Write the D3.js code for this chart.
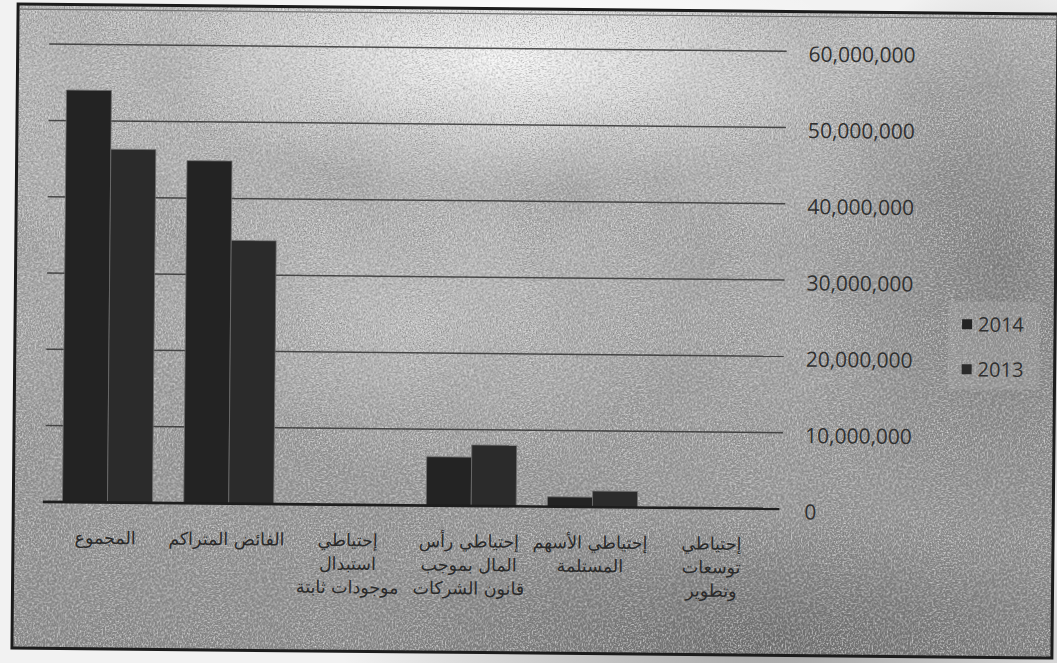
<!DOCTYPE html>
<html>
<head>
<meta charset="utf-8">
<script src="https://cdn.jsdelivr.net/npm/d3@7"></script>
<style>
	body { margin: 0; background: #f2f2f2; }
	svg { display: block; }
</style>
</head>
<body>
<svg id="chart" width="1057" height="663"></svg>
<script>
// categories, left to right as printed (lines split with \n)
var categories = [
	"المجموع",
	"الفائض المتراكم",
	"إحتياطي\nاستبدال\nموجودات ثابتة",
	"إحتياطي رأس\nالمال بموجب\nقانون الشركات",
	"إحتياطي الأسهم\nالمستلمة",
	"إحتياطي\nتوسعات\nوتطوير"
];
var seriesNames = ["2014", "2013"];
var values2014 = [54000000, 44900000, 0, 6400000, 1300000, 150000];
var values2013 = [46300000, 34500000, 0, 8000000, 2100000, 100000];
var yTicks = [0, 10000000, 20000000, 30000000, 40000000, 50000000, 60000000];

var W = 1057, H = 663;
var TILT = 0.55;
var BAR_COLORS = ["#232323", "#2b2b2b"];
var TEXT_COLOR = "#2a2a2a";

var svg = d3.select("#chart");
var defs = svg.append("defs");

/*
Paper shading: light patch at the top, darker towards bottom / right
*/
var lin = defs.append("linearGradient").attr("id", "paper").attr("x1", 0).attr("y1", 0).attr("x2", 0).attr("y2", 1);
lin.append("stop").attr("offset", "0").attr("stop-color", "#b8b8b8");
lin.append("stop").attr("offset", "0.45").attr("stop-color", "#a6a6a6");
lin.append("stop").attr("offset", "1").attr("stop-color", "#898989");

var hi = defs.append("radialGradient").attr("id", "highlight");
hi.append("stop").attr("offset", "0").attr("stop-color", "#ffffff").attr("stop-opacity", 0.9);
hi.append("stop").attr("offset", "1").attr("stop-color", "#ffffff").attr("stop-opacity", 0);

var dk = defs.append("radialGradient").attr("id", "shadow");
dk.append("stop").attr("offset", "0").attr("stop-color", "#505050").attr("stop-opacity", 0.5);
dk.append("stop").attr("offset", "1").attr("stop-color", "#505050").attr("stop-opacity", 0);

// soft blotches
var blot = defs.append("filter").attr("id", "blotch").attr("x", 0).attr("y", 0).attr("width", "100%").attr("height", "100%");
blot.append("feTurbulence").attr("type", "fractalNoise").attr("baseFrequency", 0.01).attr("numOctaves", 2).attr("seed", 2);
blot.append("feColorMatrix").attr("type", "matrix")
	.attr("values", "0 0 0 0 0.25  0 0 0 0 0.25  0 0 0 0 0.25  -0.7 0 0 0 0.4");

// fine grain, dark and light specks
var dark = defs.append("filter").attr("id", "grainDark").attr("x", 0).attr("y", 0).attr("width", "100%").attr("height", "100%");
dark.append("feTurbulence").attr("type", "fractalNoise").attr("baseFrequency", 0.75).attr("numOctaves", 2).attr("seed", 4);
dark.append("feColorMatrix").attr("type", "matrix")
	.attr("values", "0 0 0 0 0.15  0 0 0 0 0.15  0 0 0 0 0.15  -1.6 0 0 0 0.9");

var light = defs.append("filter").attr("id", "grainLight").attr("x", 0).attr("y", 0).attr("width", "100%").attr("height", "100%");
light.append("feTurbulence").attr("type", "fractalNoise").attr("baseFrequency", 0.6).attr("numOctaves", 2).attr("seed", 9);
light.append("feColorMatrix").attr("type", "matrix")
	.attr("values", "0 0 0 0 1  0 0 0 0 1  0 0 0 0 1  1.6 0 0 0 -0.7");

// everything sits on a slightly tilted sheet
var sheet = svg.append("g").attr("transform", "rotate(" + TILT + "," + (W / 2) + "," + (H / 2) + ")");

var frame = { x: 15, y: 9, w: 1040, h: 644 };
sheet.append("rect").attr("x", frame.x).attr("y", frame.y).attr("width", frame.w).attr("height", frame.h).attr("fill", "url(#paper)");
sheet.append("rect").attr("x", frame.x).attr("y", frame.y).attr("width", frame.w).attr("height", frame.h).attr("filter", "url(#blotch)");
sheet.append("ellipse").attr("cx", 500).attr("cy", 60).attr("rx", 360).attr("ry", 130).attr("fill", "url(#highlight)");
sheet.append("ellipse").attr("cx", 420).attr("cy", 320).attr("rx", 260).attr("ry", 160).attr("fill", "url(#highlight)").attr("opacity", 0.3);
sheet.append("ellipse").attr("cx", 1000).attr("cy", 260).attr("rx", 200).attr("ry", 300).attr("fill", "url(#shadow)");
sheet.append("ellipse").attr("cx", 780).attr("cy", 640).attr("rx", 440).attr("ry", 130).attr("fill", "url(#shadow)");
sheet.append("rect").attr("x", frame.x).attr("y", frame.y).attr("width", frame.w).attr("height", frame.h).attr("filter", "url(#grainDark)");
sheet.append("rect").attr("x", frame.x).attr("y", frame.y).attr("width", frame.w).attr("height", frame.h).attr("filter", "url(#grainLight)");

/*
Scales
*/
var plot = { left: 48.5, right: 776, top: 48.7, bottom: 506.5 };

var x0 = d3.scaleBand().domain(categories).range([plot.left, plot.right]).paddingInner(0.258).paddingOuter(0.129);
var x1 = d3.scaleBand().domain(seriesNames).range([0, x0.bandwidth()]);
var y = d3.scaleLinear().domain([0, 60000000]).range([plot.bottom, plot.top]);

// gridlines
sheet.append("g").selectAll("line").data(yTicks.slice(1)).join("line")
	.attr("x1", plot.left - 2).attr("x2", plot.right + 8)
	.attr("y1", function(d) { return y(d); }).attr("y2", function(d) { return y(d); })
	.attr("stroke", "#333").attr("stroke-width", 1.5).attr("opacity", 0.85);

// bars
var rows = categories.map(function(c, i) { return { cat: c, vals: [values2014[i], values2013[i]] }; });
var groups = sheet.append("g").selectAll("g").data(rows).join("g")
	.attr("transform", function(d) { return "translate(" + x0(d.cat) + ",0)"; });
groups.selectAll("rect").data(function(d) { return d.vals.map(function(v, k) { return { s: seriesNames[k], v: v, k: k }; }); }).join("rect")
	.attr("x", function(d) { return x1(d.s); })
	.attr("width", x1.bandwidth())
	.attr("y", function(d) { return y(d.v); })
	.attr("height", function(d) { return y(0) - y(d.v); })
	.attr("fill", function(d) { return BAR_COLORS[d.k]; })
	.attr("stroke", "#6e6e6e").attr("stroke-width", 0.8);

// base line
sheet.append("line").attr("x1", plot.left - 4).attr("x2", plot.right + 5)
	.attr("y1", y(0)).attr("y2", y(0)).attr("stroke", "#1e1e1e").attr("stroke-width", 2.6);

// value axis on the right, labels only
var yAxis = d3.axisRight(y).tickValues(yTicks).tickSize(0).tickPadding(0).tickFormat(d3.format(","));
var ya = sheet.append("g").attr("transform", "translate(806,3)").call(yAxis);
ya.select(".domain").remove();
ya.selectAll("text").attr("font-family", "'Open Sans', sans-serif").attr("font-size", 21)
	.attr("fill", "#303030").attr("text-anchor", "start");

// category labels
var labels = sheet.append("g").selectAll("text").data(categories).join("text")
	.attr("text-anchor", "middle").attr("direction", "rtl")
	.attr("font-family", "'DejaVu Sans', sans-serif").attr("font-size", 17.5).attr("fill", TEXT_COLOR)
	.attr("transform", function(d) { return "translate(" + (x0(d) + x0.bandwidth() / 2 - 2) + ",548)"; });
labels.selectAll("tspan").data(function(d) { return d.split("\n"); }).join("tspan")
	.attr("x", 0).attr("dy", function(d, i) { return i === 0 ? 0 : 23.5; })
	.text(function(d) { return d; });

// legend
var legend = sheet.append("g").attr("transform", "translate(948,297)");
legend.append("rect").attr("width", 92).attr("height", 88).attr("fill", "#bdbdbd").attr("opacity", 0.25);
var items = legend.selectAll("g").data(seriesNames).join("g")
	.attr("transform", function(d, i) { return "translate(14," + (23 + i * 45) + ")"; });
items.append("rect").attr("x", 0).attr("y", -5).attr("width", 10).attr("height", 10)
	.attr("fill", function(d, i) { return BAR_COLORS[i]; });
items.append("text").attr("x", 16).attr("y", 0).attr("dy", "0.36em")
	.attr("font-family", "'Open Sans', sans-serif").attr("font-size", 20).attr("fill", "#303030")
	.text(function(d) { return d; });

// outer border of the printed chart
sheet.append("rect").attr("x", frame.x).attr("y", frame.y).attr("width", frame.w).attr("height", frame.h)
	.attr("fill", "none").attr("stroke", "#1c1c1c").attr("stroke-width", 3);
sheet.append("line").attr("x1", frame.x + 2).attr("x2", frame.x + frame.w - 2).attr("y1", frame.y + 5).attr("y2", frame.y + 5)
	.attr("stroke", "#707070").attr("stroke-width", 1.2);
</script>
</body>
</html>
